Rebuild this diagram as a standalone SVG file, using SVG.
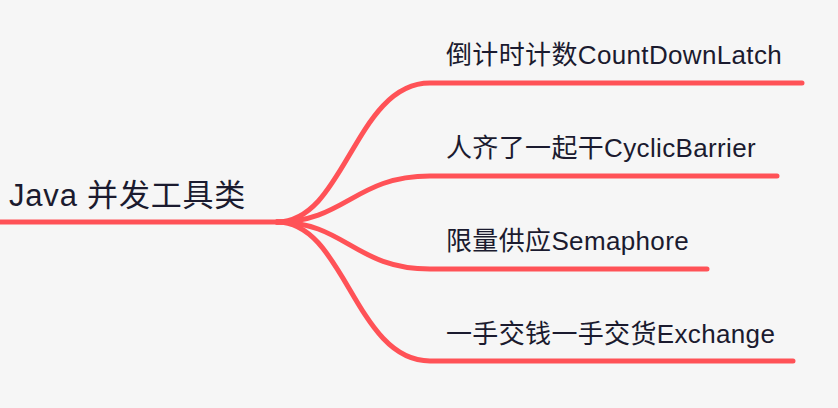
<svg xmlns="http://www.w3.org/2000/svg" width="838" height="408" viewBox="0 0 838 408">
<style>
.t{font-family:"Liberation Sans","Noto Sans CJK SC",sans-serif;fill:#1b1b2f}
.b{font-size:26px;letter-spacing:0.35px}
.l{fill:none;stroke:#ff5257;stroke-width:5;stroke-linecap:round}
</style>
<rect width="838" height="408" fill="#f6f6f6"/>
<g id="connectors">
<path class="l" d="M277 222 C345 222 355 83 430 83 L802 83"/>
<path class="l" d="M277 222 C345 222 355 176 430 176 L777 176"/>
<path class="l" d="M277 222 C345 222 355 269 430 269 L707 269"/>
<path class="l" d="M277 222 C345 222 355 361 430 361 L793 361"/>
</g>
<g id="root">
<path class="l" d="M-5 222 L277 222" stroke-linecap="butt"/>
<text class="t" x="9" y="206" font-size="31" letter-spacing="0.8">Java 并发工具类</text>
</g>
<g id="n1"><text class="t b" x="446" y="64">倒计时计数CountDownLatch</text></g>
<g id="n2"><text class="t b" x="446" y="157">人齐了一起干CyclicBarrier</text></g>
<g id="n3"><text class="t b" x="446" y="250">限量供应Semaphore</text></g>
<g id="n4"><text class="t b" x="446" y="343">一手交钱一手交货Exchange</text></g>
</svg>
